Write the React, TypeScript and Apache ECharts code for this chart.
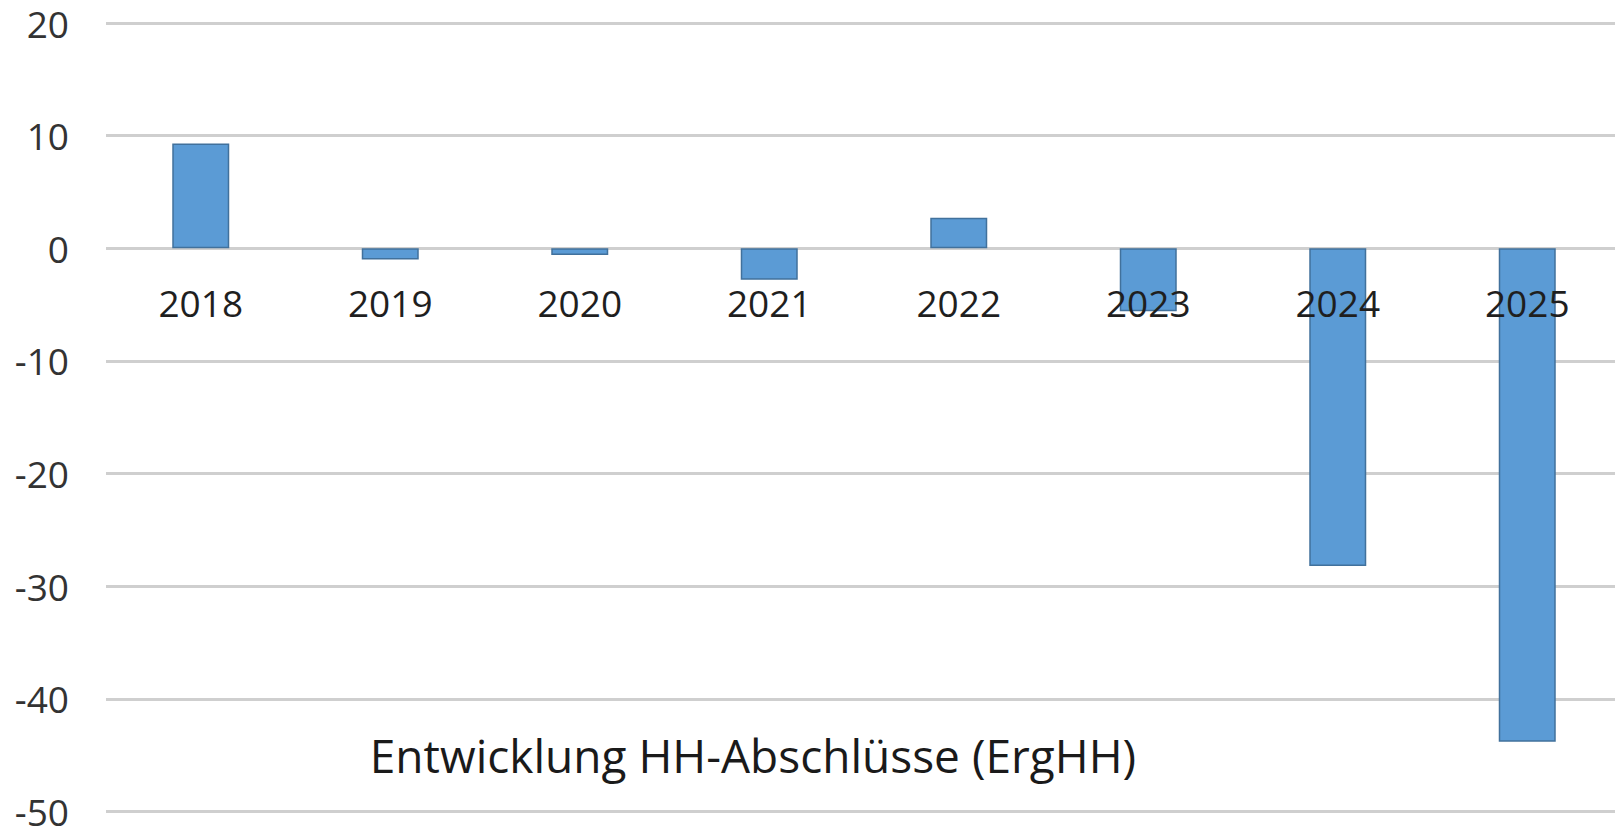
import React, { useEffect, useRef } from "react";
import * as echarts from "echarts";

const years = ["2018", "2019", "2020", "2021", "2022", "2023", "2024", "2025"];
const values = [9.3, -1.0, -0.6, -2.8, 2.7, -5.6, -28.2, -43.8];
const yMin = -50;
const yMax = 20;
const yStep = 10;
const chartTitle = "Entwicklung HH-Abschlüsse (ErgHH)";

const W = 1615;
const H = 826;
const gridTop = 23;
const gridBottom = 14.5;
const plotH = H - gridTop - gridBottom;
// distance from grid bottom to the zero line, so the category labels sit under zero
const zeroOffset = (plotH * (0 - yMin)) / (yMax - yMin);

export default function App() {
  const ref = useRef<HTMLDivElement>(null);
  useEffect(() => {
    document.body.style.margin = "0";
    const chart = echarts.init(ref.current!, null, { renderer: "svg" });
    chart.setOption({
      animation: false,
      backgroundColor: "#ffffff",
      grid: {
        left: 106,
        right: -7,
        top: gridTop,
        bottom: gridBottom,
        containLabel: false,
        outerBoundsMode: "none",
      },
      xAxis: {
        type: "category",
        data: years,
        z: 10,
        position: "bottom",
        offset: -zeroOffset,
        axisLine: { show: false, onZero: false },
        axisTick: { show: false },
        axisLabel: {
          margin: 36,
          fontSize: 37,
          fontFamily: "Open Sans",
          color: "#1f1f1f",
        },
      },
      yAxis: {
        type: "value",
        min: yMin,
        max: yMax,
        interval: yStep,
        axisLine: { show: false },
        axisTick: { show: false },
        splitLine: { lineStyle: { color: "#cfcfcf", width: 3 } },
        axisLabel: {
          margin: 37,
          fontSize: 37,
          fontFamily: "Open Sans",
          color: "#333333",
        },
      },
      series: [
        {
          type: "bar",
          data: values,
          barWidth: 57,
          itemStyle: { color: "#5B9BD5", borderColor: "#41719C", borderWidth: 1.5 },
        },
      ],
      graphic: [
        {
          type: "text",
          x: 753,
          y: 755,
          style: {
            text: chartTitle,
            fontSize: 46,
            fontFamily: "Open Sans",
            fill: "#1a1a1a",
            textAlign: "center",
            textVerticalAlign: "middle",
          },
        },
      ],
    });
    return () => chart.dispose();
  }, []);
  return (
    <div
      ref={ref}
      style={{ position: "absolute", left: 0, top: 0, width: W, height: H }}
    />
  );
}
